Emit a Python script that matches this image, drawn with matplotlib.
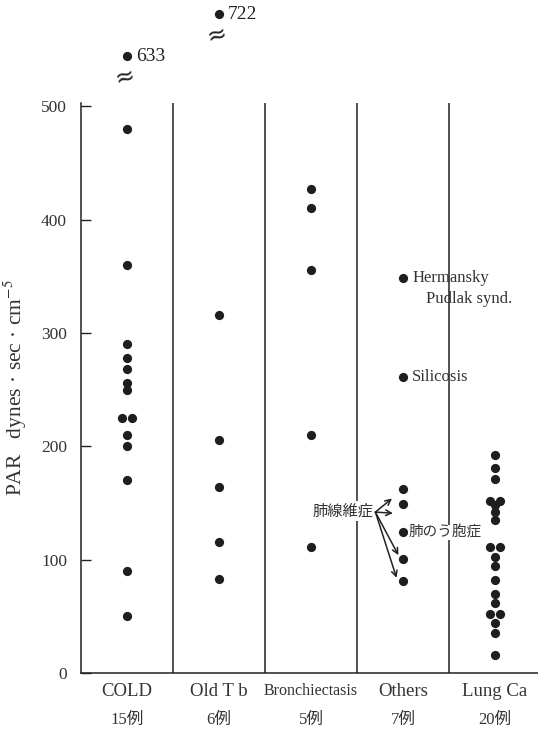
import matplotlib
matplotlib.use("Agg")
import matplotlib.pyplot as plt
import numpy as np

plt.rcParams['font.family'] = ['Liberation Serif', 'Noto Sans CJK JP']
plt.rcParams['mathtext.fontset'] = 'stix'

# groups and patient counts
groups = ["COLD", "Old T b", "Bronchiectasis", "Others", "Lung Ca"]
counts = ["15例", "6例", "5例", "7例", "20例"]

# PAR values (dynes·sec·cm^-5) per group
cold = [633, 480, 360, 290, 278, 268, 256, 250, 225, 225, 210, 200, 170, 90, 50]
old_tb = [722, 316, 206, 164, 116, 83]
bronchiectasis = [427, 410, 356, 210, 111]
others = [349, 261, 162, 149, 124, 101, 81]
lung_ca = [192, 181, 171, 152, 152, 148, 142, 135, 111, 111, 102, 94, 82,
           70, 62, 52, 52, 44, 35, 16]
series = [cold, old_tb, bronchiectasis, others, lung_ca]

# named cases in the "Others" group
hermansky = 349
silicosis = 261
fibrosis = [162, 149, 101, 81]
cyst = 124

break_at = 500
yticks = [0, 100, 200, 300, 400, 500]

W, H = 538, 730
fig = plt.figure(figsize=(W / 100, H / 100), dpi=100)

left_px, col_px = 81, 92
right_px = 538
bot_px, top_px = 673, 103
ax = fig.add_axes([left_px / W, (H - bot_px) / H,
                   (right_px - left_px) / W, (bot_px - top_px) / H])
ax.set_xlim(0, (right_px - left_px) / col_px)
ax.set_ylim(0, 503)

# upper strip for values above the axis break
ax_top = fig.add_axes([left_px / W, (H - 100) / H,
                       (right_px - left_px) / W, 100 / H])
ax_top.set_xlim(ax.get_xlim())
ax_top.set_ylim(539.8, 751.7)
ax_top.axis("off")

dot_color = "#1e1e1e"
for i, vals in enumerate(series):
    vals = np.asarray(vals)
    cx = i + 0.5
    seen = {}
    for v in vals:
        seen[v] = seen.get(v, 0) + 1
    used = {}
    for v in vals:
        n = seen[v]
        k = used.get(v, 0)
        used[v] = k + 1
        off = 0.0 if n == 1 else (k - (n - 1) / 2) * 0.11
        target = ax if v <= break_at else ax_top
        target.scatter(cx + off, v, s=44, color=dot_color, zorder=3,
                       linewidths=0, clip_on=False)
        if v > break_at:
            ax_top.text(cx + 0.1, v, f"{v}", fontsize=14, va="center",
                        ha="left", color="#222")
            ax_top.text(cx - 0.02, v - 46, "≈", fontsize=17, va="center",
                        ha="center", rotation=15, color="#222",
                        family="DejaVu Sans")

# column separators
for xdiv in range(1, len(groups)):
    ax.axvline(xdiv, color="#222", lw=1.1, zorder=1)

for s in ["top", "right"]:
    ax.spines[s].set_visible(False)
for s in ["left", "bottom"]:
    ax.spines[s].set_color("#222")
    ax.spines[s].set_linewidth(1.1)

ax.set_yticks(yticks)
ax.set_yticklabels([str(t) for t in yticks], fontsize=12.5, color="#333")
ax.tick_params(axis="y", direction="in", length=7, width=1, pad=10,
               color="#222")
ax.set_xticks([])

ax.set_ylabel("PAR   dynes · sec · cm$^{-5}$", fontsize=15.5,
              color="#333", labelpad=9)

# group names and counts below the axis
for i, (g, c) in enumerate(zip(groups, counts)):
    fs = 11.5 if g == "Bronchiectasis" else 13.5
    ax.text(i + 0.5, -0.018, g, transform=ax.get_xaxis_transform(),
            ha="center", va="top", fontsize=fs, color="#333")
    ax.text(i + 0.5, -0.068, c, transform=ax.get_xaxis_transform(),
            ha="center", va="top", fontsize=12, color="#333")

# case annotations in the "Others" column
ax.text(3.6, hermansky, "Hermansky", fontsize=12, va="center", ha="left",
        color="#333")
ax.text(3.75, hermansky - 19, "Pudlak synd.", fontsize=12, va="center",
        ha="left", color="#333")
ax.text(3.6, silicosis, "Silicosis", fontsize=12, va="center", ha="left",
        color="#333")
ax.text(3.56, cyst, "肺のう胞症", fontsize=10.5, va="center", ha="left",
        color="#333", family=["Noto Sans CJK JP"],
        bbox=dict(facecolor="white", edgecolor="none", pad=0.5))

src = (3.2, 142)
ax.text(src[0] - 0.02, src[1] + 1, "肺線維症", fontsize=11, va="center",
        ha="right", color="#333", family=["Noto Sans CJK JP"], zorder=2,
        bbox=dict(facecolor="white", edgecolor="none", pad=1.0))
for fv, ex in zip(fibrosis, [3.38, 3.39, 3.45, 3.43]):
    ax.annotate("", xy=(ex, fv - 8 if fv > 140 else fv + 3), xytext=src,
                arrowprops=dict(arrowstyle="->", color="#222", lw=1.1,
                                shrinkA=0, shrinkB=0, mutation_scale=10),
                zorder=4)

fig.savefig("out.png", dpi=100, facecolor="white")
